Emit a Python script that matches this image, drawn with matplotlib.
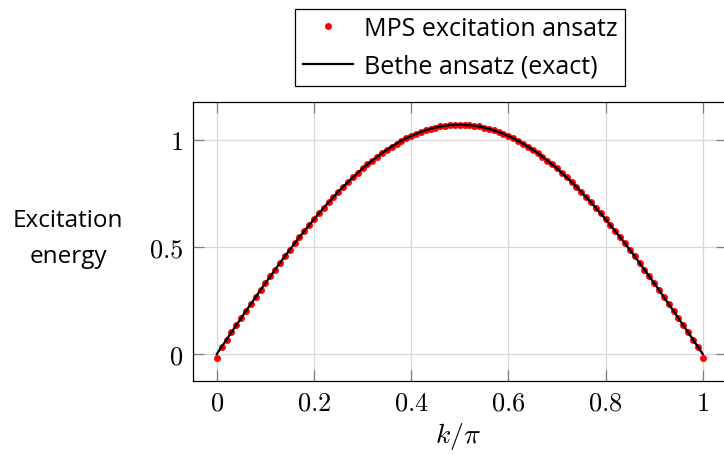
import numpy as np
import matplotlib
matplotlib.use('Agg')
import matplotlib.pyplot as plt

plt.rcParams['font.family'] = ['Open Sans', 'DejaVu Sans']
plt.rcParams['mathtext.fontset'] = 'cm'

# k/pi in steps of 0.01
k = np.arange(101) / 100.0

# Bethe ansatz dispersion
bethe = [0.000, 0.034, 0.067, 0.101, 0.134, 0.167, 0.201, 0.233, 0.266, 0.299,
         0.331, 0.362, 0.394, 0.425, 0.456, 0.486, 0.516, 0.545, 0.573, 0.601,
         0.629, 0.656, 0.682, 0.708, 0.732, 0.757, 0.780, 0.803, 0.824, 0.845,
         0.866, 0.885, 0.903, 0.921, 0.938, 0.953, 0.968, 0.982, 0.995, 1.007,
         1.018, 1.027, 1.036, 1.044, 1.051, 1.057, 1.062, 1.065, 1.068, 1.069,
         1.070,
         1.069, 1.068, 1.065, 1.062, 1.057, 1.051, 1.044, 1.036, 1.027, 1.018,
         1.007, 0.995, 0.982, 0.968, 0.953, 0.938, 0.921, 0.903, 0.885, 0.866,
         0.845, 0.824, 0.803, 0.780, 0.757, 0.732, 0.708, 0.682, 0.656, 0.629,
         0.601, 0.573, 0.545, 0.516, 0.486, 0.456, 0.425, 0.394, 0.362, 0.331,
         0.299, 0.266, 0.233, 0.201, 0.167, 0.134, 0.101, 0.067, 0.034, 0.000]

# MPS excitation ansatz: same as exact except the two end points
mps = list(bethe)
mps[0] = -0.017
mps[-1] = -0.017

xticks = [0, 0.2, 0.4, 0.6, 0.8, 1]
yticks = [0, 0.5, 1]

fig = plt.figure(figsize=(7.24, 4.56), dpi=100)
ax = fig.add_axes([193/724, 1-382/456, (727-193)/724, (382-103)/456])

ax.plot(k, mps, 'o', color='red', markersize=5, markeredgewidth=0,
        label='MPS excitation ansatz', zorder=3)
ax.plot(k, bethe, '-', color='black', lw=1.6, label='Bethe ansatz (exact)', zorder=4)

ax.set_xlim(-0.049, 1.05)
ax.set_ylim(-0.126, 1.176)
ax.set_xticks(xticks)
ax.set_xticklabels(['$%g$' % t for t in xticks])
ax.set_yticks(yticks)
ax.set_yticklabels(['$%g$' % t for t in yticks])
ax.tick_params(direction='in', top=True, right=True, length=8, width=0.9,
               color='#7f7f7f', labelsize=19, pad=7)
ax.grid(True, color='#d7d7d7', lw=0.9)
ax.set_axisbelow(True)
for s in ax.spines.values():
    s.set_linewidth(0.9)
    s.set_color('black')

ax.set_xlabel('$k/\\pi$', fontsize=20, va='center')
ax.xaxis.set_label_coords(0.496, -0.194)
ax.set_ylabel('Excitation\nenergy', rotation=0, ha='center', va='center',
              fontsize=17.5, linespacing=1.7)
ax.yaxis.set_label_coords(-0.234, 0.513)

leg = ax.legend(loc='lower center', bbox_to_anchor=(0.5, 1.057), fontsize=18,
                frameon=True, fancybox=False, framealpha=1, edgecolor='black',
                handlelength=2.0, handletextpad=0.45, labelspacing=0.5,
                borderpad=0.3, borderaxespad=0, markerscale=1.0)
leg.get_frame().set_linewidth(0.9)

plt.savefig('out.png', dpi=100)
